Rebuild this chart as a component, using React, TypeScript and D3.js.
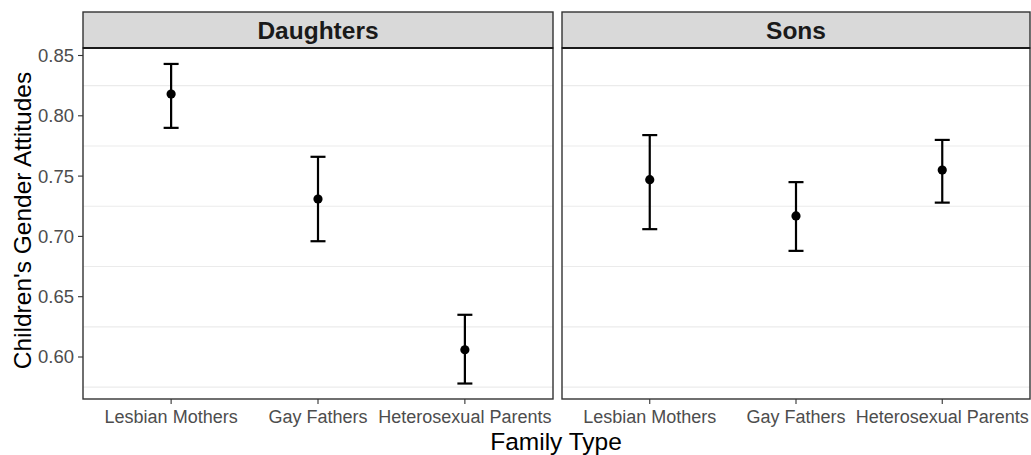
import React from "react";
import * as d3 from "d3";

// Family types on the x axis of each panel
const familyTypes = ["Lesbian Mothers", "Gay Fathers", "Heterosexual Parents"];
// Panel (facet) labels
const panels = ["Daughters", "Sons"];

// Mean gender-attitude scores with 95% CI bounds, one array per panel
const daughtersMean = [0.818, 0.731, 0.606];
const daughtersLow = [0.790, 0.696, 0.578];
const daughtersHigh = [0.843, 0.766, 0.635];

const sonsMean = [0.747, 0.717, 0.755];
const sonsLow = [0.706, 0.688, 0.728];
const sonsHigh = [0.784, 0.745, 0.780];

// Y axis ticks and minor gridlines
const yTicks = [0.6, 0.65, 0.7, 0.75, 0.8, 0.85];
const yMinor = [0.575, 0.625, 0.675, 0.725, 0.775, 0.825];
const yDomain = [0.56517, 0.85622];

const W = 1031;
const H = 455;
const FONT = "'Liberation Sans', Arial, sans-serif";

const panelTop = 48;
const panelBottom = 399;
const stripTop = 12;
const panelXs = [
  [83, 553],
  [562, 1030],
];

const seriesByPanel = [
  { mean: daughtersMean, low: daughtersLow, high: daughtersHigh },
  { mean: sonsMean, low: sonsLow, high: sonsHigh },
];

export default function App() {
  const y = d3.scaleLinear().domain(yDomain).range([panelBottom, panelTop]);

  return (
    <svg
      width={W}
      height={H}
      viewBox={`0 0 ${W} ${H}`}
      style={{ position: "absolute", left: 0, top: 0, background: "#fff" }}
      fontFamily={FONT}
    >
      <rect x={0} y={0} width={W} height={H} fill="#fff" />
      {panels.map((name, pi) => {
        const [x0, x1] = panelXs[pi];
        const x = d3.scalePoint<string>().domain(familyTypes).range([x0, x1]).padding(0.6);
        const s = seriesByPanel[pi];
        return (
          <g key={name}>
            {/* minor gridlines */}
            {yMinor.map((v) => (
              <line key={v} x1={x0} x2={x1} y1={y(v)} y2={y(v)} stroke="#ebebeb" strokeWidth={1.1} />
            ))}
            {/* error bars and points */}
            {familyTypes.map((f, i) => {
              const cx = x(f)!;
              return (
                <g key={f}>
                  <line x1={cx} x2={cx} y1={y(s.low[i])} y2={y(s.high[i])} stroke="#000" strokeWidth={2.2} />
                  <line x1={cx - 7.5} x2={cx + 7.5} y1={y(s.low[i])} y2={y(s.low[i])} stroke="#000" strokeWidth={2.2} />
                  <line x1={cx - 7.5} x2={cx + 7.5} y1={y(s.high[i])} y2={y(s.high[i])} stroke="#000" strokeWidth={2.2} />
                  <circle cx={cx} cy={y(s.mean[i])} r={4.6} fill="#000" />
                </g>
              );
            })}
            {/* panel border */}
            <rect x={x0} y={panelTop} width={x1 - x0} height={panelBottom - panelTop} fill="none" stroke="#333" strokeWidth={1.4} />
            {/* strip */}
            <rect x={x0} y={stripTop} width={x1 - x0} height={panelTop - stripTop} fill="#d9d9d9" stroke="#333" strokeWidth={1.4} />
            <line x1={x0} x2={x1} y1={panelTop} y2={panelTop} stroke="#1a1a1a" strokeWidth={2.2} />
            <text
              x={(x0 + x1) / 2}
              y={(stripTop + panelTop) / 2 + 8.5}
              textAnchor="middle"
              fontSize={24.5}
              fontWeight="bold"
              fill="#1a1a1a"
            >
              {name}
            </text>
            {/* x ticks and labels */}
            {familyTypes.map((f) => (
              <g key={f}>
                <line x1={x(f)} x2={x(f)} y1={panelBottom} y2={panelBottom + 5} stroke="#333" strokeWidth={1.1} />
                <text x={x(f)} y={panelBottom + 23.5} textAnchor="middle" fontSize={18} fill="#4d4d4d">
                  {f}
                </text>
              </g>
            ))}
          </g>
        );
      })}
      {/* y axis ticks and labels */}
      {yTicks.map((v) => (
        <g key={v}>
          <line x1={78} x2={83} y1={y(v)} y2={y(v)} stroke="#333" strokeWidth={1.1} />
          <text x={74} y={y(v) + 6.5} textAnchor="end" fontSize={18.5} fill="#4d4d4d">
            {d3.format(".2f")(v)}
          </text>
        </g>
      ))}
      {/* axis titles */}
      <text x={556} y={450} textAnchor="middle" fontSize={24.5} fill="#000">
        Family Type
      </text>
      <text
        transform={`translate(31, ${(panelTop + panelBottom) / 2 - 3}) rotate(-90)`}
        textAnchor="middle"
        fontSize={24.5}
        fill="#000"
      >
        Children's Gender Attitudes
      </text>
    </svg>
  );
}
